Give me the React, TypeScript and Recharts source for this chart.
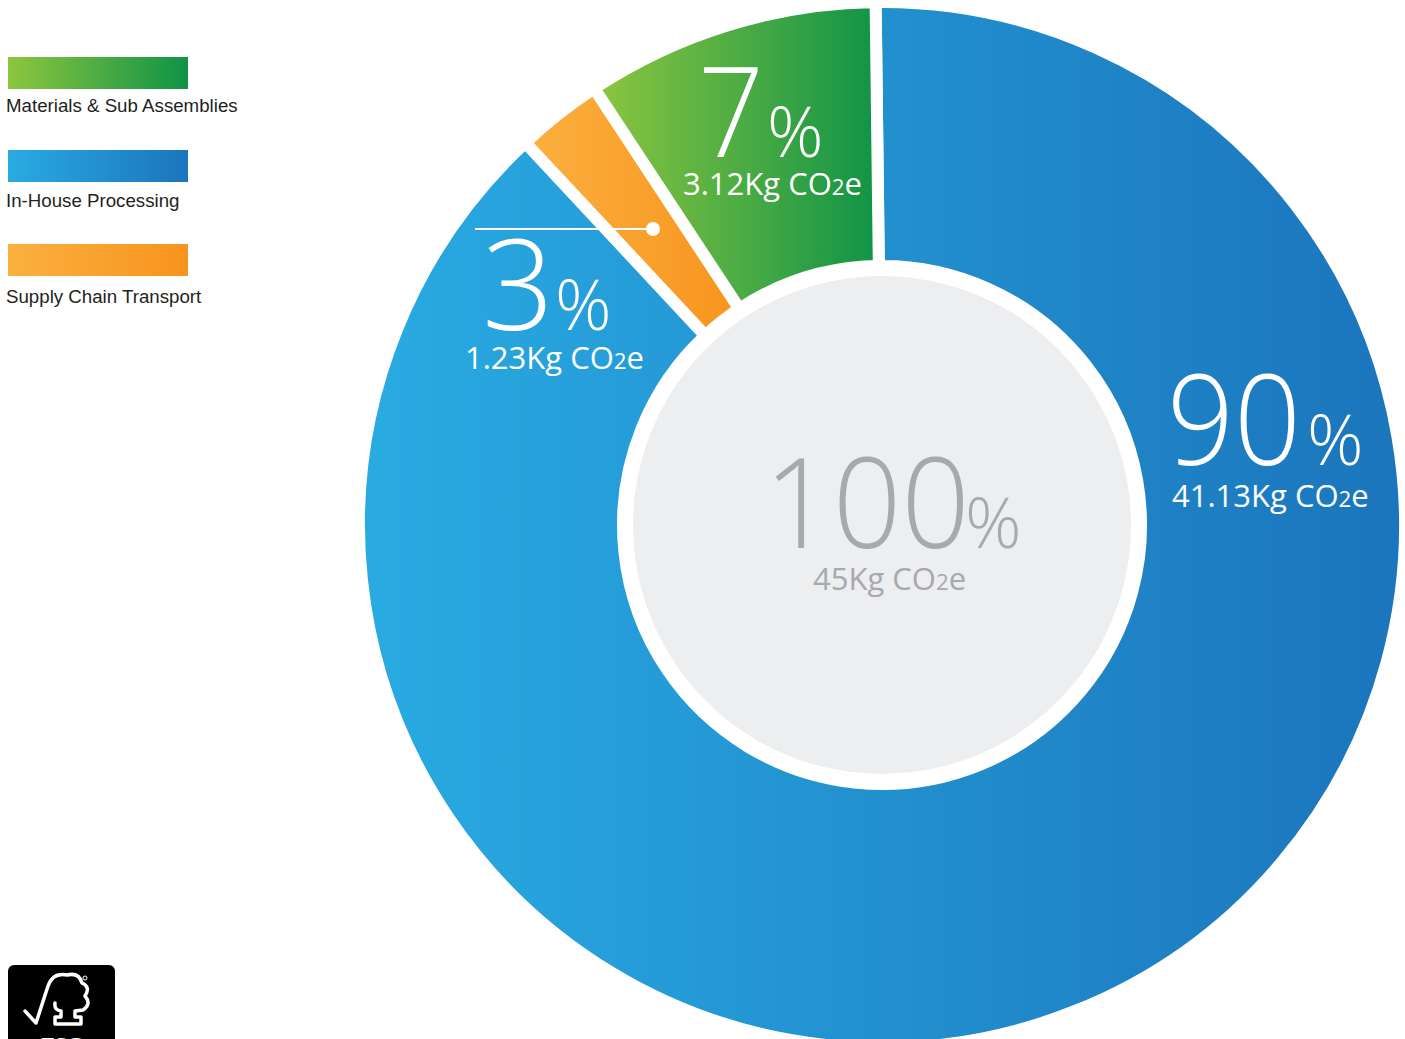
import React from "react";
import { PieChart, Pie, Cell } from "recharts";

// Slice names (legend order) and the share of the ring each slice occupies in the picture
const sliceNames = ["In-House Processing", "Supply Chain Transport", "Materials & Sub Assemblies"];
const sliceShare = [88.25, 2.67, 9.08];
const sliceGradients = ["gBlue", "gOrange", "gGreen"];

// Labels printed on the chart
const pctLabels = ["90", "3", "7"];
const kgLabels = ["41.13Kg CO", "1.23Kg CO", "3.12Kg CO"];
const totalPct = "100";
const totalKg = "45Kg CO";

const legendNames = ["Materials & Sub Assemblies", "In-House Processing", "Supply Chain Transport"];
const legendGradients = ["lgGreen", "lgBlue", "lgOrange"];

const ringData = sliceNames.map((name, i) => ({ name, value: sliceShare[i] }));
const centerData = [{ name: "Total", value: 100 }];

const W = 1405;
const H = 1039;
const CX = 882;
const CY = 525;

const numFont = "'Open Sans', 'DejaVu Sans', sans-serif";

function Grad({ id, from, to }: { id: string; from: string; to: string }) {
  return (
    <linearGradient id={id} x1="0" y1="0" x2="1" y2="0">
      <stop offset="0%" stopColor={from} />
      <stop offset="100%" stopColor={to} />
    </linearGradient>
  );
}

function Kg({ x, y, text, fill, size = 31 }: { x: number; y: number; text: string; fill: string; size?: number }) {
  return (
    <text x={x} y={y} fill={fill} fontFamily={numFont} fontSize={size} fontWeight={400}>
      <tspan>{text}</tspan>
      <tspan fontSize={size * 0.72}>2</tspan>
      <tspan>e</tspan>
    </text>
  );
}

function Big({ x, y, num, len, pctX, fill }: { x: number; y: number; num: string; len: number; pctX: number; fill: string }) {
  return (
    <g>
      <text x={x} y={y} fill={fill} fontFamily={numFont} fontSize={126} fontWeight={300} textLength={len} lengthAdjust="spacingAndGlyphs">
        {num}
      </text>
      <text x={pctX} y={y} fill={fill} fontFamily={numFont} fontSize={70} fontWeight={300}>
        %
      </text>
    </g>
  );
}

export default function App() {
  const legendTops = [57, 150, 244];
  const legendBaselines = [112, 207, 303];
  return (
    <div style={{ position: "absolute", left: 0, top: 0, width: W, height: H, background: "#fff", overflow: "hidden" }}>
      <PieChart width={W} height={H} margin={{ top: 0, right: 0, bottom: 0, left: 0 }}>
        <defs>
          <Grad id="gBlue" from="#29abe2" to="#1b75bc" />
          <Grad id="gOrange" from="#fbb040" to="#f7941d" />
          <Grad id="gGreen" from="#8dc63f" to="#0f9347" />
        </defs>
        <Pie
          data={ringData}
          dataKey="value"
          cx={CX}
          cy={CY}
          innerRadius={259}
          outerRadius={523}
          startAngle={90.7}
          endAngle={-269.3}
          stroke="#ffffff"
          strokeWidth={12}
          isAnimationActive={false}
        >
          {ringData.map((d, i) => (
            <Cell key={d.name} fill={`url(#${sliceGradients[i]})`} stroke="#ffffff" strokeWidth={12} />
          ))}
        </Pie>
        <Pie
          data={centerData}
          dataKey="value"
          cx={CX}
          cy={CY}
          innerRadius={0}
          outerRadius={249}
          stroke="none"
          fill="#edeef0"
          isAnimationActive={false}
        />
      </PieChart>

      <svg width={W} height={H} style={{ position: "absolute", left: 0, top: 0, pointerEvents: "none" }}>
        <defs>
          <Grad id="lgGreen" from="#8dc63f" to="#0f9347" />
          <Grad id="lgBlue" from="#29abe2" to="#1b75bc" />
          <Grad id="lgOrange" from="#fbb040" to="#f7941d" />
        </defs>

        {/* legend */}
        {legendNames.map((n, i) => (
          <g key={n}>
            <rect x={8} y={legendTops[i]} width={180} height={32} fill={`url(#${legendGradients[i]})`} />
            <text x={6} y={legendBaselines[i]} fill="#231f20" fontFamily="'Liberation Sans', Arial, sans-serif" fontSize={18.7}>
              {n}
            </text>
          </g>
        ))}

        {/* blue 90% */}
        <Big x={1167} y={465} num={pctLabels[0]} len={134} pctX={1307} fill="#ffffff" />
        <Kg x={1172} y={507} text={kgLabels[0]} fill="#ffffff" />

        {/* green 7% */}
        <Big x={698} y={157} num={pctLabels[2]} len={66} pctX={767} fill="#ffffff" />
        <Kg x={683} y={195} text={kgLabels[2]} fill="#ffffff" />

        {/* orange 3% */}
        <line x1={475} y1={229} x2={653} y2={229} stroke="#ffffff" strokeWidth={2} />
        <circle cx={653} cy={229} r={7} fill="#ffffff" />
        <Big x={482} y={330} num={pctLabels[1]} len={72} pctX={555} fill="#ffffff" />
        <Kg x={465} y={369} text={kgLabels[1]} fill="#ffffff" />

        {/* center total */}
        <Big x={764} y={548} num={totalPct} len={206} pctX={965} fill="#a7a9ac" />
        <Kg x={813} y={590} text={totalKg} fill="#a7a9ac" />

        {/* FSC badge */}
        <rect x={8} y={965} width={107} height={90} rx={6} fill="#000000" />
        <path
          d="M25 1011 L36 1023 L48 986 Q53 972 67 975 Q79 972 82 983 Q91 987 85 996 Q92 1004 83 1010 L75 1011 L75 1017 L81 1017 L81 1024 L55 1024 L55 1017 L61 1017 L61 1011 Q54 1010 55 1003"
          stroke="#ffffff"
          strokeWidth={3.5}
          fill="none"
          strokeLinejoin="round"
          strokeLinecap="round"
        />
        <circle cx={85} cy={978} r={2} fill="none" stroke="#ffffff" strokeWidth={1} />
        <text x={62} y={1052} textAnchor="middle" fill="#ffffff" fontFamily="'Liberation Serif', serif" fontWeight={700} fontSize={22}>
          FSC
        </text>
      </svg>
    </div>
  );
}
